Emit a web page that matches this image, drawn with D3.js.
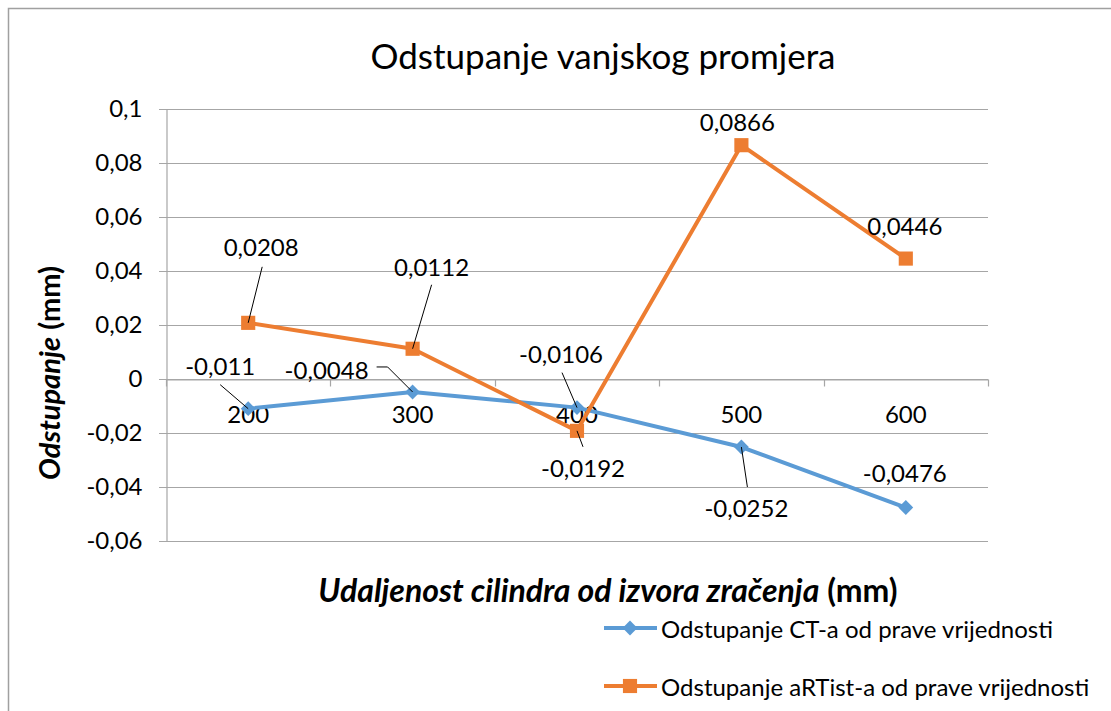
<!DOCTYPE html>
<html>
<head>
<meta charset="utf-8">
<script src="https://cdn.jsdelivr.net/npm/d3@7"></script>
<style>
  body { margin: 0; background: #fff; }
  text { font-family: Lato, "Open Sans", sans-serif; fill: #000; }
</style>
</head>
<body>
<div id="chart"></div>
<script>
// data
const categories = ["200", "300", "400", "500", "600"];
const ctValues = [-0.011, -0.0048, -0.0106, -0.0252, -0.0476];
const artistValues = [0.0208, 0.0112, -0.0192, 0.0866, 0.0446];
const ctLabels = ["-0,011", "-0,0048", "-0,0106", "-0,0252", "-0,0476"];
const artistLabels = ["0,0208", "0,0112", "-0,0192", "0,0866", "0,0446"];
const yTicks = [0.1, 0.08, 0.06, 0.04, 0.02, 0, -0.02, -0.04, -0.06];
const yTickLabels = ["0,1", "0,08", "0,06", "0,04", "0,02", "0", "-0,02", "-0,04", "-0,06"];
const seriesNames = ["Odstupanje CT-a od prave vrijednosti", "Odstupanje aRTist-a od prave vrijednosti"];

// label placement relative to each point (layout only)
const ctLabelOff = [[-28, -43], [-86, -22], [-16, -54], [5, 60], [-1, -35]];
const ctLeader = [[-28, -24], [-25, -25], [-15, -35], [6, 40], null];
const artistLabelOff = [[13, -76], [19, -82], [6, 37], [-4, -24], [-1, -33]];
const artistLeader = [[14, -56], [19, -64], [6, 16], null, null];

const width = 1111, height = 711;
const margin = { left: 166, right: 123, top: 109, bottom: 170 };
const blue = "#5B9BD5", orange = "#ED7D31", grid = "#A6A6A6";
const labelSize = "24px";

let svg = d3.select("#chart").append("svg")
    .attr("width", width)
    .attr("height", height);

// outer chart frame, cut off on right/bottom like the reference
svg.append("rect")
    .attr("x", 8.5).attr("y", 8.5)
    .attr("width", 1200).attr("height", 800)
    .attr("fill", "none")
    .attr("stroke", "#A0A0A0")
    .attr("stroke-width", 1.5);

let x = d3.scaleBand().domain(categories).range([margin.left, width - margin.right]).padding(0);
let y = d3.scaleLinear().domain([-0.06, 0.1]).range([height - margin.bottom, margin.top]);
let cx = c => x(c) + x.bandwidth() / 2;

// gridlines
svg.append("g").selectAll("line").data(yTicks).join("line")
    .attr("x1", margin.left - 7).attr("x2", width - margin.right)
    .attr("y1", d => Math.round(y(d)) + 0.5).attr("y2", d => Math.round(y(d)) + 0.5)
    .attr("stroke", grid).attr("stroke-width", 1.2);

// y axis
let yAxis = d3.axisLeft(y).tickValues(yTicks).tickSize(0).tickPadding(24)
    .tickFormat((d, i) => yTickLabels[i]);
let yg = svg.append("g").attr("transform", "translate(" + (margin.left + 0.5) + ",0)").call(yAxis);
yg.select(".domain").attr("stroke", grid).attr("stroke-width", 1.2);
yg.selectAll("text").style("font-size", labelSize).style("font-family", "Lato, sans-serif");

// x axis at zero
let xAxis = d3.axisBottom(x).tickSize(0).tickPadding(0).tickFormat(() => "");
let xg = svg.append("g").attr("transform", "translate(0," + (Math.round(y(0)) + 0.5) + ")").call(xAxis);
xg.select(".domain").attr("stroke", grid).attr("stroke-width", 1.2);
xg.selectAll(".tick").remove();
let bounds = categories.map(c => x(c)).concat([width - margin.right]);
xg.selectAll("line.tm").data(bounds).join("line")
    .attr("class", "tm")
    .attr("x1", d => Math.round(d) + 0.5).attr("x2", d => Math.round(d) + 0.5)
    .attr("y1", 0).attr("y2", 7)
    .attr("stroke", grid).attr("stroke-width", 1.2);

// title
svg.append("text")
    .attr("x", 603).attr("y", 55)
    .attr("text-anchor", "middle")
    .attr("dominant-baseline", "central")
    .style("font-size", "35px")
    .text("Odstupanje vanjskog promjera");

// axis titles
let xt = svg.append("text")
    .attr("x", 608).attr("y", 589)
    .attr("text-anchor", "middle")
    .attr("dominant-baseline", "central")
    .style("font-size", "32px").style("font-weight", "bold");
xt.append("tspan").style("font-style", "italic").text("Udaljenost cilindra od izvora zračenja");
xt.append("tspan").text(" (mm)");

let yt = svg.append("text")
    .attr("transform", "translate(48," + 373 + ") rotate(-90)")
    .attr("text-anchor", "middle")
    .attr("dominant-baseline", "central")
    .style("font-size", "29px").style("font-weight", "bold");
yt.append("tspan").style("font-style", "italic").text("Odstupanje");
yt.append("tspan").text(" (mm)");

let line = d3.line().x((d, i) => cx(categories[i])).y(d => y(d));

// category labels (drawn under the series)
svg.append("g").selectAll("text").data(categories).join("text")
    .attr("x", d => cx(d)).attr("y", y(0) + 34)
    .attr("text-anchor", "middle")
    .attr("dominant-baseline", "central")
    .style("font-size", labelSize)
    .text(d => d);

function drawSeries(values, color, diamond) {
    svg.append("path")
        .datum(values)
        .attr("d", line)
        .attr("fill", "none")
        .attr("stroke", color)
        .attr("stroke-width", 4)
        .attr("stroke-linejoin", "round");

    let sym = d3.symbol().type(d3.symbolSquare).size(diamond ? 110 : 200);
    svg.append("g").selectAll("path").data(values).join("path")
        .attr("d", sym)
        .attr("transform", (d, i) => "translate(" + cx(categories[i]) + "," + y(d) + ")" + (diamond ? " rotate(45)" : ""))
        .attr("fill", color);
}

function drawLabels(values, labels, offs, leaders) {
    let g = svg.append("g");
    values.forEach((v, i) => {
        let px = cx(categories[i]), py = y(v);
        if (leaders[i]) {
            let pts = [[px + leaders[i][0], py + leaders[i][1]], [px, py]];
            if (i === 1 && labels === ctLabels) pts.unshift([px + leaders[i][0] - 11, py + leaders[i][1]]);
            g.append("path")
                .attr("d", d3.line()(pts))
                .attr("fill", "none")
                .attr("stroke", "#000")
                .attr("stroke-width", 1);
        }
        g.append("text")
            .attr("x", px + offs[i][0]).attr("y", py + offs[i][1])
            .attr("text-anchor", "middle")
            .attr("dominant-baseline", "central")
            .style("font-size", labelSize)
            .text(labels[i]);
    });
}

drawSeries(ctValues, blue, true);
drawSeries(artistValues, orange, false);
drawLabels(ctValues, ctLabels, ctLabelOff, ctLeader);
drawLabels(artistValues, artistLabels, artistLabelOff, artistLeader);

// legend
let legend = svg.append("g");
[[blue, true, 628], [orange, false, 686]].forEach((d, i) => {
    legend.append("line")
        .attr("x1", 604).attr("x2", 657).attr("y1", d[2]).attr("y2", d[2])
        .attr("stroke", d[0]).attr("stroke-width", 4);
    legend.append("path")
        .attr("d", d3.symbol().type(d3.symbolSquare).size(d[1] ? 110 : 200))
        .attr("transform", "translate(630," + d[2] + ")" + (d[1] ? " rotate(45)" : ""))
        .attr("fill", d[0]);
    legend.append("text")
        .attr("x", 661).attr("y", d[2])
        .attr("dominant-baseline", "central")
        .style("font-size", labelSize)
        .text(seriesNames[i]);
});
</script>
</body>
</html>
